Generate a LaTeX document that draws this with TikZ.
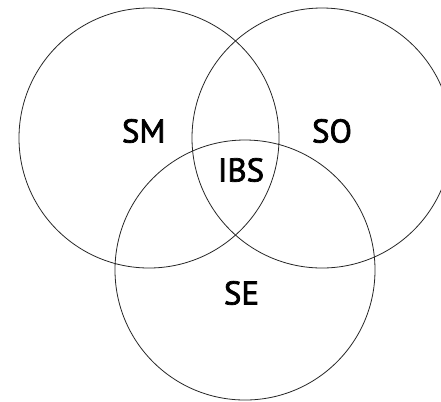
\documentclass[tikz,border=0pt]{standalone}
\usepackage{fontspec}
\setmainfont{PT Sans}
\newfontfamily\labelfont[FakeBold=2.2]{PT Sans}
\begin{document}
\begin{tikzpicture}[x=1bp,y=-1bp,
  ring/.style={draw=black!85,line width=0.8bp},
  lbl/.style={font=\labelfont\fontsize{33}{33}\selectfont,text=black,inner sep=0pt}]
\useasboundingbox (0,0) rectangle (441,401);
\clip (0,0) rectangle (441,401);
\fill[white] (0,0) rectangle (441,401);
\draw[ring] (149,138) circle[radius=130];
\draw[ring] (322,138) circle[radius=130];
\draw[ring] (245,270) circle[radius=130];
\node[lbl] (sm) at (143.7,131) {SM};
\node[lbl] (so) at (332,131) {SO};
\node[lbl] (ibs) at (241,170) {IBS};
\node[lbl] (se) at (241.5,293) {SE};
\end{tikzpicture}
\end{document}
